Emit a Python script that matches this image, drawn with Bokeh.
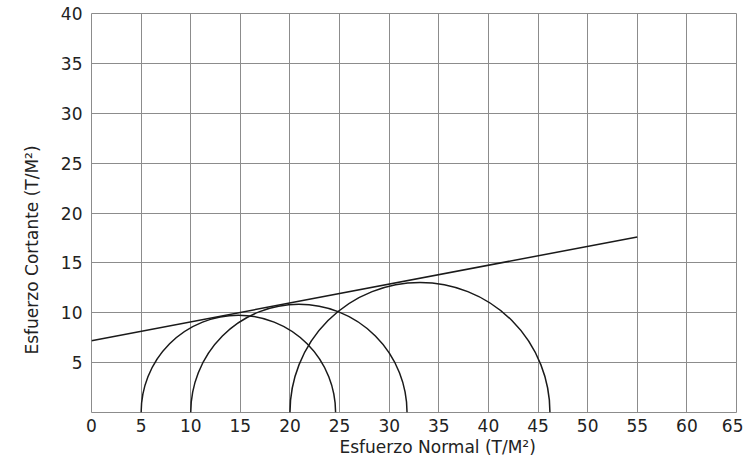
import numpy as np
from bokeh.plotting import figure
from bokeh.models import FixedTicker, Range1d, Title
from bokeh.embed import file_html
from bokeh.resources import INLINE

# Mohr circles: minor and major principal stresses (T/M²)
sigma3 = [5, 10, 20]
sigma1 = [24.6, 31.8, 46.2]

# Failure envelope end points
env_x = [0, 55]
env_y = [7.2, 17.6]

x_ticks = [0, 5, 10, 15, 20, 25, 30, 35, 40, 45, 50, 55, 60, 65]
y_ticks = [5, 10, 15, 20, 25, 30, 35, 40]

x_title = "Esfuerzo Normal (T/M²)"
y_title = "Esfuerzo Cortante (T/M²)"

centers = [(a + b) / 2 for a, b in zip(sigma3, sigma1)]
radii = [(b - a) / 2 for a, b in zip(sigma3, sigma1)]

W, H = 743, 460
p = figure(width=W, height=H, output_backend="svg", toolbar_location=None,
           x_range=Range1d(0, 65), y_range=Range1d(0, 40),
           min_border_left=91, min_border_top=13, min_border_right=7, min_border_bottom=48)

p.xaxis.ticker = FixedTicker(ticks=x_ticks)
p.yaxis.ticker = FixedTicker(ticks=y_ticks)

FONT = "DejaVu Sans"
for ax in (p.xaxis[0], p.yaxis[0]):
    ax.axis_line_color = None
    ax.major_tick_line_color = None
    ax.minor_tick_line_color = None
    ax.major_tick_out = 0
    ax.major_tick_in = 0
    ax.major_label_text_font = FONT
    ax.major_label_text_font_size = "17px"
    ax.major_label_text_color = "#222222"

p.xaxis.major_label_standoff = 6
p.yaxis.major_label_standoff = 9

p.xgrid.grid_line_color = "#8c8c8c"
p.ygrid.grid_line_color = "#8c8c8c"
p.xgrid.grid_line_width = 1
p.ygrid.grid_line_width = 1
p.outline_line_color = "#8c8c8c"
p.outline_line_width = 1

p.arc(x=centers, y=[0] * len(centers), radius=radii, start_angle=0, end_angle=np.pi,
      line_color="#1a1a1a", line_width=1.5)
p.line(env_x, env_y, line_color="#1a1a1a", line_width=1.5)

# Axis titles, offset from the frame centre as in the reference
p.add_layout(Title(text=x_title, align="left", offset=248, standoff=0,
                   text_font=FONT, text_font_size="17px", text_font_style="normal",
                   text_color="#222222"), "below")
p.add_layout(Title(text=y_title, align="left", offset=58, standoff=32,
                   text_font=FONT, text_font_size="17px", text_font_style="normal",
                   text_color="#222222"), "left")

open("out.html", "w").write(file_html(p, INLINE))
